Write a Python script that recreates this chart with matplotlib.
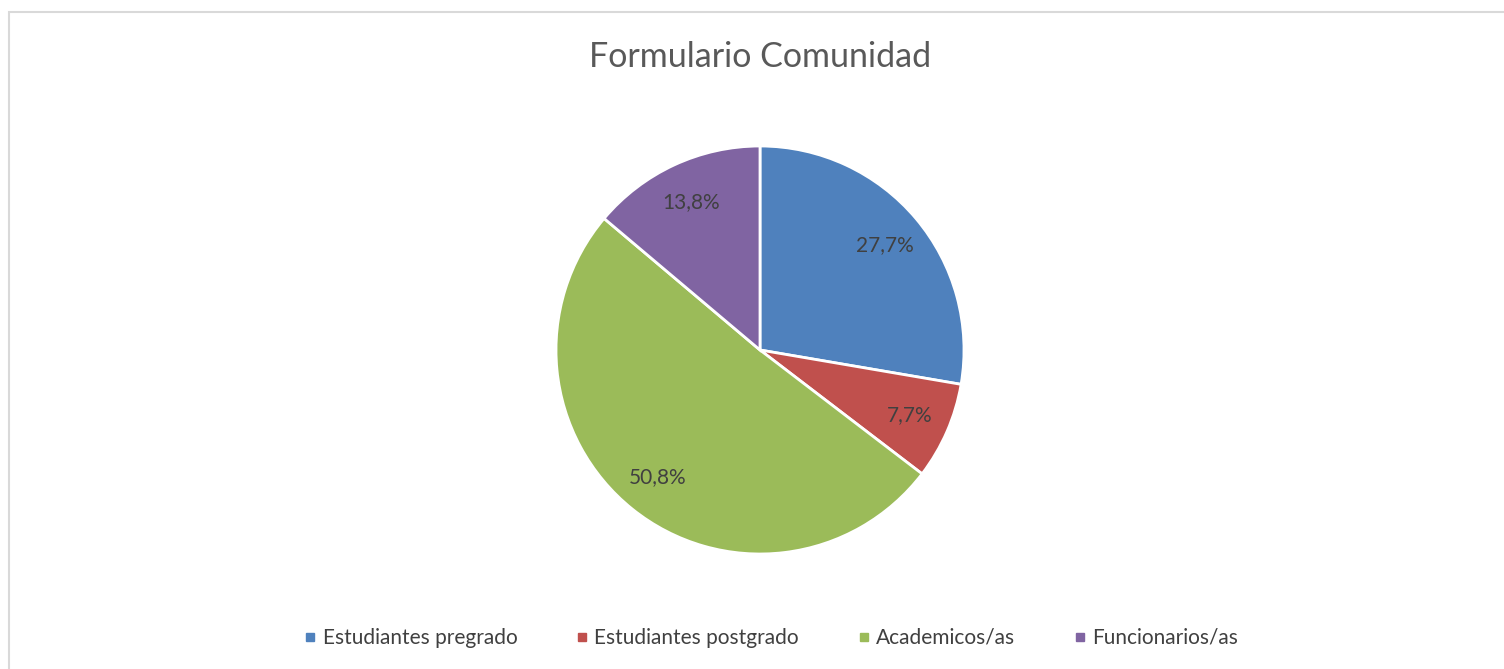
import matplotlib.pyplot as plt
from matplotlib.patches import Rectangle
from matplotlib.lines import Line2D

# Formulario Comunidad - respuestas por estamento
categories = ['Estudiantes pregrado', 'Estudiantes postgrado', 'Academicos/as', 'Funcionarios/as']
counts = [18, 5, 33, 9]
colors = ['#4f81bd', '#c0504d', '#9bbb59', '#8064a2']

plt.rcParams['font.family'] = ['Lato', 'DejaVu Sans']

W, H = 1504, 669
fig = plt.figure(figsize=(W / 100, H / 100), dpi=100)

# light frame of the chart area
fig.patches.append(Rectangle((9 / W, -0.05), 1.1, (H - 12) / H + 0.05,
                             transform=fig.transFigure, fill=False,
                             edgecolor='#d9d9d9', linewidth=1.5))

# pie axes: center (760, 350), radius 204 px
r = 204
ax = fig.add_axes([(760 - r) / W, (H - 350 - r) / H, 2 * r / W, 2 * r / H])


def fmt(p):
    return f'{p:.1f}'.replace('.', ',') + '%'


wedges, texts, autotexts = ax.pie(counts, colors=colors, startangle=90, counterclock=False,
                                  autopct=fmt, pctdistance=0.8,
                                  wedgeprops=dict(edgecolor='white', linewidth=2))
for t in autotexts:
    t.set_color('#404040')
    t.set_fontsize(15)
ax.set_aspect('equal')
ax.set_xlim(-1, 1)
ax.set_ylim(-1, 1)

fig.text(760 / W, 1 - 57 / H, 'Formulario Comunidad', ha='center', va='center',
         fontsize=24.5, color='#595959')

handles = [Line2D([], [], marker='s', linestyle='none', markersize=6,
                  markerfacecolor=c, markeredgecolor=c) for c in colors]
fig.legend(handles, categories, loc='center', bbox_to_anchor=(769 / W, 1 - 638 / H),
           ncol=4, frameon=False, fontsize=15, labelcolor='#404040',
           handletextpad=0.1, columnspacing=2.6, handlelength=1.0)

fig.savefig('out.png', dpi=100)
